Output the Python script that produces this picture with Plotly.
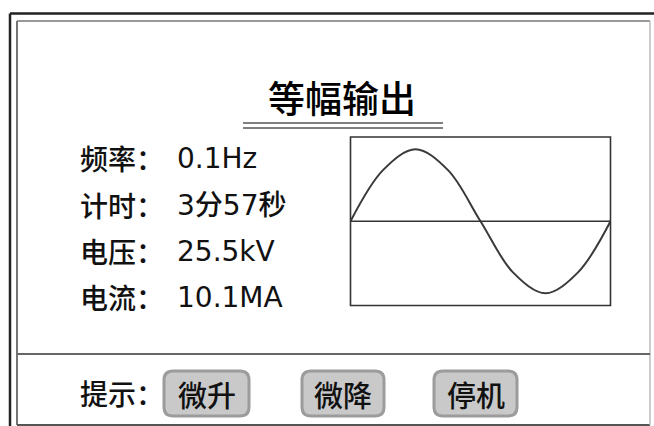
import plotly.graph_objects as go

# ---- data ----
title_text = "等幅输出"
param_labels = ["频率：", "计时：", "电压：", "电流："]
param_values = ["0.1Hz", "3分57秒", "25.5kV", "10.1MA"]
hint_label = "提示："
button_labels = ["微升", "微降", "停机"]
wave_x = [0, 0.125, 0.25, 0.375, 0.5, 0.625, 0.75, 0.875, 1.0]
wave_y = [0, 0.71, 1.0, 0.71, 0, -0.71, -1.0, -0.71, 0]

# ---- layout constants (pixels) ----
W, H = 654, 426
row_y = [158, 205, 251, 297]
label_x = 78
value_x = 175
button_boxes = [(164, 371, 249, 416), (302, 371, 384, 416), (434, 371, 517, 416)]
wave_box = (350.5, 137, 610.5, 305.5)

CJK = "Noto Sans CJK SC"
NUM = "DejaVu Sans, Noto Sans CJK SC"


def rounded_path(x0, y0, x1, y1, r):
    return (f"M {x0+r},{y0} L {x1-r},{y0} Q {x1},{y0} {x1},{y0+r} "
            f"L {x1},{y1-r} Q {x1},{y1} {x1-r},{y1} L {x0+r},{y1} "
            f"Q {x0},{y1} {x0},{y1-r} L {x0},{y0+r} Q {x0},{y0} {x0+r},{y0} Z")


fig = go.Figure()

fig.add_trace(go.Scatter(
    x=wave_x, y=wave_y, mode="lines",
    line=dict(color="#3a3a3a", width=2, shape="spline", smoothing=1.0),
    xaxis="x2", yaxis="y2", hoverinfo="skip", showlegend=False,
))

shapes = []
# outer frame (dark, left and top)
shapes.append(dict(type="line", x0=10, x1=10, y0=13.5, y1=H, line=dict(color="#222", width=2.5)))
shapes.append(dict(type="line", x0=10, x1=W, y0=13.5, y1=13.5, line=dict(color="#222", width=2.5)))
# inner frame
shapes.append(dict(type="line", x0=17, x1=17, y0=21, y1=425, line=dict(color="#666", width=1.8)))
shapes.append(dict(type="line", x0=17, x1=650, y0=21, y1=21, line=dict(color="#777", width=1.5)))
shapes.append(dict(type="line", x0=17, x1=650, y0=425, y1=425, line=dict(color="#555", width=1.8)))
shapes.append(dict(type="line", x0=650, x1=650, y0=21, y1=425, line=dict(color="#bbb", width=1.5)))
# separator
shapes.append(dict(type="line", x0=17, x1=650, y0=354, y1=354, line=dict(color="#666", width=2)))
# title underline (double)
for yy in (123, 128):
    shapes.append(dict(type="line", x0=243, x1=443, y0=yy, y1=yy, line=dict(color="#555", width=1.6)))
# waveform box and zero line
bx0, by0, bx1, by1 = wave_box
shapes.append(dict(type="rect", x0=bx0, x1=bx1, y0=by0, y1=by1, line=dict(color="#333", width=1.6)))
shapes.append(dict(type="line", x0=bx0, x1=bx1, y0=(by0 + by1) / 2, y1=(by0 + by1) / 2,
                   line=dict(color="#333", width=1.6)))
# buttons
for (x0, y0, x1, y1) in button_boxes:
    shapes.append(dict(type="path", path=rounded_path(x0, y0, x1, y1, 9),
                       fillcolor="#c9c9c9", line=dict(color="#9c9c9c", width=3)))

for s in shapes:
    s["xref"] = "x"
    s["yref"] = "y"
    s["layer"] = "below" if s["type"] == "path" else "above"

annotations = []
annotations.append(dict(text=title_text, x=342, y=97, xanchor="center", yanchor="middle",
                        font=dict(family=CJK, size=37, color="#000", weight=500)))
for lab, val, yy in zip(param_labels, param_values, row_y):
    annotations.append(dict(text=lab, x=label_x, y=yy, xanchor="left", yanchor="middle",
                            font=dict(family=CJK, size=28, color="#111", weight=500)))
    annotations.append(dict(text=val, x=value_x, y=yy, xanchor="left", yanchor="middle",
                            font=dict(family=NUM, size=28, color="#111", weight=500)))
annotations.append(dict(text=hint_label, x=label_x, y=393, xanchor="left", yanchor="middle",
                        font=dict(family=CJK, size=28, color="#111", weight=500)))
for lab, (x0, y0, x1, y1) in zip(button_labels, button_boxes):
    annotations.append(dict(text=lab, x=(x0 + x1) / 2, y=(y0 + y1) / 2, xanchor="center",
                            yanchor="middle", font=dict(family=CJK, size=29, color="#111", weight=500)))
for a in annotations:
    a["xref"] = "x"
    a["yref"] = "y"
    a["showarrow"] = False

hidden = dict(visible=False, showgrid=False, zeroline=False, fixedrange=True)
fig.update_layout(
    width=W, height=H,
    margin=dict(l=0, r=0, t=0, b=0),
    paper_bgcolor="white", plot_bgcolor="white",
    xaxis=dict(range=[0, W], domain=[0, 1], **hidden),
    yaxis=dict(range=[H, 0], domain=[0, 1], **hidden),
    xaxis2=dict(range=[0, 1], domain=[bx0 / W, bx1 / W], anchor="y2", **hidden),
    yaxis2=dict(range=[-1.17, 1.17], domain=[(H - by1) / H, (H - by0) / H], anchor="x2", **hidden),
    shapes=shapes,
    annotations=annotations,
    showlegend=False,
)

fig.write_html("out.html", config={"displayModeBar": False},
               post_script="document.body.style.margin='0';document.body.style.overflow='hidden';")
